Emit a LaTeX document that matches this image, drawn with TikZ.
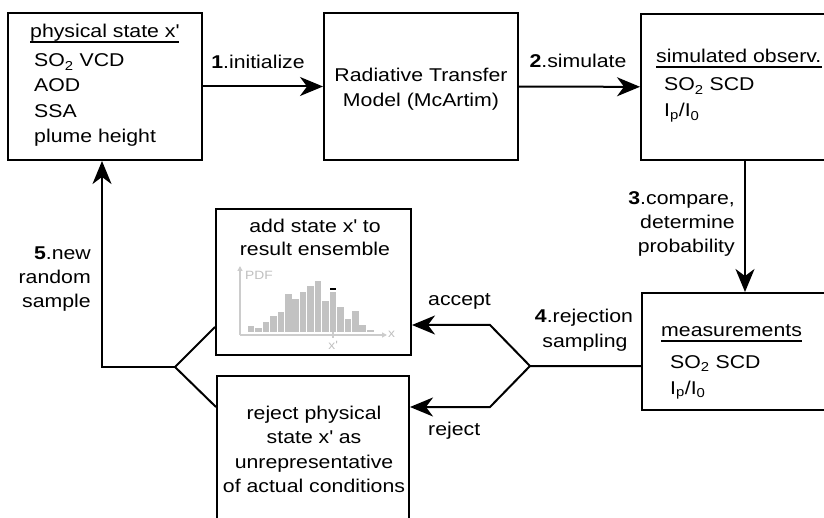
\documentclass[tikz,border=0pt]{standalone}
\usepackage{fontspec}
\setmainfont{Liberation Sans}[FakeStretch=1.15]
\usetikzlibrary{arrows.meta}
\newcommand{\xq}{x\textquotesingle}

\begin{document}
\begin{tikzpicture}[x=1pt, y=-1pt, font=\fontsize{18.5}{24}\selectfont,
  box/.style={draw, line width=2pt, inner sep=0pt},
  txt/.style={inner sep=0pt},
  uline/.style={line width=1.3pt},
  flow/.style={line width=2pt, -{Stealth[length=23pt, width=19pt, inset=7pt]}},
  hist/.style={black!24},
  haxis/.style={black!20, line width=1.4pt, -{Triangle[length=5pt, width=5pt]}},
  small/.style={txt, black!25, font=\fontsize{12}{14}\selectfont}]
  \useasboundingbox (0,0) rectangle (824,518);
  \clip (0,0) rectangle (824,518);
  % ---- boxes ----
  \node[box, minimum width=194pt, minimum height=147pt] (phys) at (105,86.5) {};
  \node[box, minimum width=194pt, minimum height=147pt] (rtm) at (421,86.5) {};
  \node[box, minimum width=279pt, minimum height=146pt] (simobs) at (780.5,87) {};
  \node[box, minimum width=278pt, minimum height=117pt] (meas) at (781,351.5) {};
  \node[box, minimum width=195pt, minimum height=146pt] (add) at (313.5,282) {};
  \node[box, minimum width=192pt, minimum height=184pt] (rejbox) at (313,468) {};
  % ---- box texts ----
  \node[txt, anchor=base west] (phys-h) at (30,38) {physical state \xq};
  \foreach \t/\y [count=\i] in {SO\textsubscript{2} VCD/67, AOD/92, SSA/118, plume height/143}
    \node[txt, anchor=base west] (phys-\i) at (34,\y) {\t};
  \foreach \t/\y [count=\i] in {Radiative Transfer/82, Model (McArtim)/107}
    \node[txt, anchor=base] (rtm-\i) at (421,\y) {\t};
  \node[txt, anchor=base west] (sim-h) at (656,63) {simulated observ.};
  \foreach \t/\y [count=\i] in {SO\textsubscript{2} SCD/91, {I\textsubscript{p}/I\textsubscript{0}}/117}
    \node[txt, anchor=base west] (sim-\i) at (664,\y) {\t};
  \node[txt, anchor=base west] (meas-h) at (661,337) {measurements};
  \foreach \t/\y [count=\i] in {SO\textsubscript{2} SCD/368, {I\textsubscript{p}/I\textsubscript{0}}/394}
    \node[txt, anchor=base west] (meas-\i) at (670,\y) {\t};
  \foreach \h in {phys-h, sim-h, meas-h}
    \draw[uline] ([yshift=-4pt]\h.base west) -- ([yshift=-4pt]\h.base east);
  \foreach \t/\y [count=\i] in {add state \xq{} to/233, result ensemble/256}
    \node[txt, anchor=base] (add-\i) at (315,\y) {\t};
  \foreach \t/\y [count=\i] in {reject physical/419, state \xq{} as/443, unrepresentative/468, of actual conditions/492}
    \node[txt, anchor=base] (rej-\i) at (314,\y) {\t};
  % ---- histogram in the ensemble box ----
  \foreach \h [count=\i] in {6.3,4,10.7,16.7,20.7,38.3,33,40.7,46.3,51.7,31.3,40.7,25.7,13,21.7,7,2.3} {
    \pgfmathsetmacro{\xl}{247.7+(\i-1)*7.45}
    \fill[hist] (\xl,332.5) rectangle (\xl+6.6,332.5-\h);
  }
  \fill[black] (247.7+11*7.45,332.5-42) rectangle (247.7+11*7.45+6.6,332.5-44.6);
  \draw[haxis] (240,335) -- (240,266);
  \draw[haxis] (240,335) -- (387,335);
  \draw[black!20, line width=1.2pt] (333,332) -- (333,338);
  \node[small, anchor=base west] (hpdf) at (245,280) {PDF};
  \node[small, anchor=west] (hx) at (388,334) {x};
  \node[small, anchor=north] (hxp) at (333,341) {\xq};
  % ---- steps ----
  \draw[flow] (phys) -- (rtm);
  \node[txt, anchor=base] (s1) at (258,69) {\textbf{1}.initialize};
  \draw[flow] (rtm) -- (simobs);
  \node[txt, anchor=base] (s2) at (578,68) {\textbf{2}.simulate};
  \coordinate (c3) at (745,0);
  \draw[flow] (simobs.south -| c3) -- (meas.north -| c3);
  \foreach \t/\y [count=\i] in {{\textbf{3}.compare,}/205, determine/229, probability/253}
    \node[txt, anchor=base east] (s3-\i) at (735,\y) {\t};
  \coordinate (sp) at (530,366);
  \coordinate (sa) at (490,325);
  \coordinate (sr) at (490,407);
  \draw[flow] (meas.west |- sp) -- (sp) -- (sa) -- (add.east |- sa);
  \draw[flow] (sp) -- (sr) -- (rejbox.east |- sr);
  \node[txt, anchor=base] (s4-1) at (584,323) {\textbf{4}.rejection};
  \node[txt, anchor=base] (s4-2) at (585,347) {sampling};
  \node[txt, anchor=base west] (acc) at (428,306) {accept};
  \node[txt, anchor=base west] (rej) at (428,435) {reject};
  \coordinate (ja) at (0,327);
  \coordinate (jr) at (0,407);
  \coordinate (mg) at (175,367);
  \coordinate (up) at (102,367);
  \draw[line width=2pt] (add.west |- ja) -- (mg) -- (rejbox.west |- jr);
  \draw[flow] (mg) -- (up) -- (phys.south -| up);
  \foreach \t/\y [count=\i] in {{\textbf{5}.new}/260, random/284, sample/308}
    \node[txt, anchor=base east] (s5-\i) at (91,\y) {\t};
\end{tikzpicture}
\end{document}
